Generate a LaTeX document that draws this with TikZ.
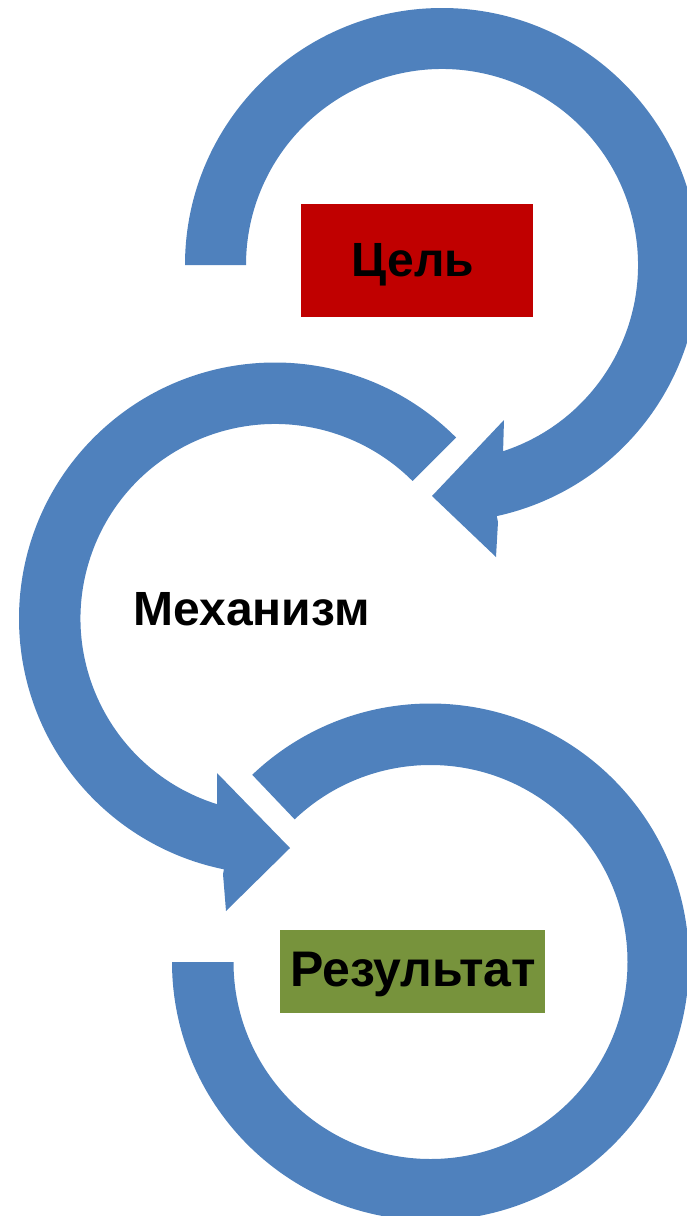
\documentclass[tikz,border=0pt]{standalone}
\usepackage{fontspec}
\setmainfont{Liberation Sans}
\usetikzlibrary{calc}
\definecolor{ringblue}{HTML}{4F81BD}
\definecolor{goalred}{HTML}{C00000}
\definecolor{resgreen}{HTML}{77933C}
\tikzset{
  ringshape/.style={fill=ringblue, draw=none},
  labelbox/.style={rectangle, draw=none, inner sep=0pt, outer sep=0pt, anchor=north west},
  wordtext/.style={font=\fontsize{48}{48}\selectfont\bfseries, text=black, inner sep=0pt, anchor=base},
}
\begin{document}
\begin{tikzpicture}[x=1pt,y=-1pt]
\useasboundingbox (0,0) rectangle (687,1216);
\clip (0,0) rectangle (687,1216);
% top ring (clockwise, arrow at lower left)
\begin{scope}[shift={(442,265)}]
\fill[ringshape] (180:257) arc[start angle=180, end angle=437.7, radius=257]
  -- (56,257) -- (54,292) -- (-10,231) -- (62,155) -- (61,189)
  -- (432.1:196) arc[start angle=432.1, end angle=180, radius=196] -- cycle;
\end{scope}
% middle ring (counter-clockwise, arrow at lower right)
\begin{scope}[shift={(275,618.5)}]
\fill[ringshape] (-45:256) arc[start angle=-45, end angle=-258.5, radius=256]
  -- (-52,255.5) -- (-49,292.5) -- (15,229.5) -- (-58,154.5) -- (-58,189.5)
  -- (-253:194.5) arc[start angle=-253, end angle=-45, radius=194.5] -- cycle;
\end{scope}
% bottom ring
\begin{scope}[shift={(430.5,962)}]
\fill[ringshape] (226.4:258.5) arc[start angle=226.4, end angle=540, radius=258.5]
  -- (540:197) arc[start angle=540, end angle=226.4, radius=197] -- cycle;
\end{scope}
% boxes and texts
\node[labelbox, fill=goalred, minimum width=232pt, minimum height=113pt] (goalbox) at (301,204) {};
\node[labelbox, fill=resgreen, minimum width=265pt, minimum height=83pt] (resultbox) at (280,930) {};
\node[wordtext] (goal) at (413,276) {Цель};
\node[wordtext] (mech) at (251.5,625) {Механизм};
\node[wordtext, font=\fontsize{50}{50}\selectfont\bfseries] (result) at (413,986) {Результат};
\end{tikzpicture}
\end{document}
